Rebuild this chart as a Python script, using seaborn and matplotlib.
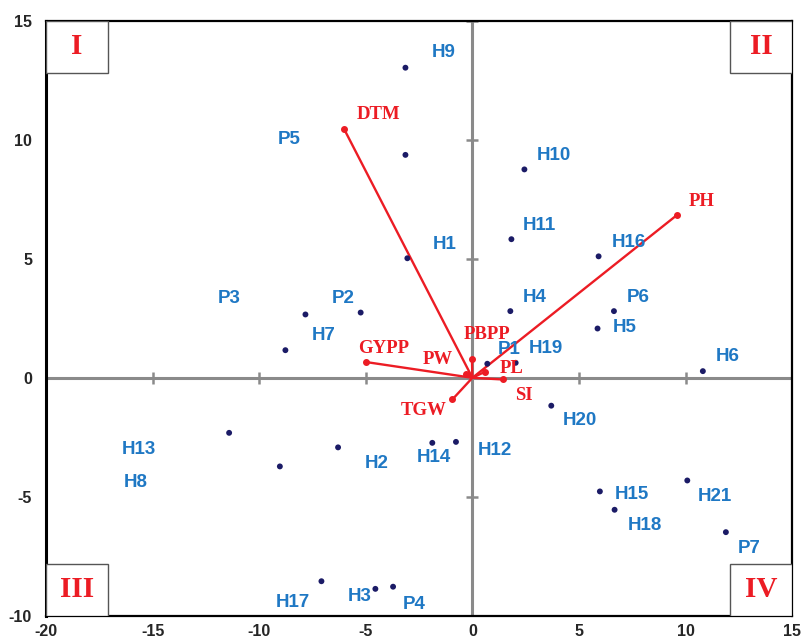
import numpy as np
import pandas as pd
import matplotlib.pyplot as plt
import seaborn as sns
from matplotlib.patches import Rectangle

# -----------------------------
# Data
# -----------------------------
genotypes = ['H1', 'H2', 'H3', 'H4', 'H5', 'H6', 'H7', 'H8', 'H9', 'H10',
             'H11', 'H12', 'H13', 'H14', 'H15', 'H16', 'H17', 'H18', 'H19',
             'H20', 'H21', 'P1', 'P2', 'P3', 'P4', 'P5', 'P6', 'P7']
pc1 = [-3.05, -6.30, -4.55, 1.78, 5.87, 10.81, -8.77, -9.03, -3.14, 2.44,
       1.83, -0.77, -11.41, -1.88, 5.98, 5.92, -7.08, 6.67, 2.03,
       3.70, 10.08, 0.70, -5.24, -7.83, -3.72, -3.14, 6.64, 11.89]
pc2 = [5.02, -2.92, -8.86, 2.80, 2.07, 0.28, 1.16, -3.72, 13.02, 8.75,
       5.82, -2.69, -2.31, -2.73, -4.77, 5.10, -8.54, -5.54, 0.63,
       -1.17, -4.31, 0.59, 2.74, 2.66, -8.77, 9.36, 2.80, -6.48]

traits = ['DTM', 'PH', 'GYPP', 'PBPP', 'PW', 'PL', 'SI', 'TGW']
trait_x = [-6.02, 9.59, -4.97, -0.02, -0.28, 0.58, 1.44, -0.94]
trait_y = [10.45, 6.83, 0.66, 0.81, 0.18, 0.25, -0.07, -0.91]

quadrants = ['I', 'II', 'III', 'IV']

# label offsets in pixels (right, down) from the point
geno_offsets = {
    'H1': (37, -14), 'H2': (39, 16), 'H3': (-16, 8), 'H4': (24, -14),
    'H5': (27, -1), 'H6': (25, -15), 'H7': (38, -15), 'H8': (-144, 16),
    'H9': (38, -15), 'H10': (29, -14), 'H11': (28, -14), 'H12': (39, 9),
    'H13': (-90, 17), 'H14': (2, 15), 'H15': (32, 3), 'H16': (30, -14),
    'H17': (-29, 21), 'H18': (30, 16), 'H19': (30, -14), 'H20': (29, 15),
    'H21': (28, 16), 'P1': (22, -14), 'P2': (-17, -14), 'P3': (-76, -16),
    'P4': (21, 18), 'P5': (-116, -15), 'P6': (24, -14), 'P7': (23, 16),
}
trait_offsets = {
    'DTM': (34, -14), 'PH': (25, -14), 'GYPP': (17, -14), 'PBPP': (15, -24),
    'PW': (-29, -14), 'PL': (27, -3), 'SI': (21, 16), 'TGW': (-29, 11),
}

df = pd.DataFrame({'genotype': genotypes, 'pc1': pc1, 'pc2': pc2})

# -----------------------------
# Style
# -----------------------------
sns.set_style('white')
plt.rcParams['font.family'] = ['Liberation Sans', 'DejaVu Sans']
plt.rcParams['axes.unicode_minus'] = False

blue = '#1f78c4'
red = '#ec1c24'
navy = '#1b1b66'
gray = '#8a8a8a'

fig = plt.figure(figsize=(8.01, 6.42), dpi=100)
ax = fig.add_axes([0.0574, 0.0405, 0.9316, 0.9275])

ax.set_xlim(-20, 15)
ax.set_ylim(-10, 15)

# zero axes with small cross ticks
ax.axhline(0, color=gray, lw=2.2, zorder=1)
ax.axvline(0, color=gray, lw=2.2, zorder=1)
xt = np.arange(-15, 16, 5)
xt = xt[xt != 0]
yt = np.arange(-10, 16, 5)
yt = yt[yt != 0]
ax.plot(xt, np.zeros_like(xt), ls='none', marker='|', ms=9, mew=1.8,
        color=gray, zorder=1)
ax.plot(np.zeros_like(yt), yt, ls='none', marker='_', ms=9, mew=1.8,
        color=gray, zorder=1)

# genotype points
sns.scatterplot(data=df, x='pc1', y='pc2', color=navy, s=18,
                edgecolor='none', ax=ax, zorder=3)

for g, x, y in zip(genotypes, pc1, pc2):
    dx, dy = geno_offsets[g]
    ax.annotate(g, (x, y), xytext=(dx, -dy), textcoords='offset pixels',
                ha='center', va='center', color=blue, fontsize=13.5,
                fontweight='bold', zorder=4)

# trait vectors
for t, x, y in zip(traits, trait_x, trait_y):
    ax.plot([0, x], [0, y], color=red, lw=1.7, zorder=2)
    ax.plot(x, y, 'o', color=red, ms=4, zorder=2)
    dx, dy = trait_offsets[t]
    ax.annotate(t, (x, y), xytext=(dx, -dy), textcoords='offset pixels',
                ha='center', va='center', color=red, fontsize=13.5,
                fontweight='bold', family='Liberation Serif', zorder=4)

# quadrant boxes
box_w, box_h = 0.083, 0.088
corners = [(0, 1 - box_h), (1 - box_w, 1 - box_h), (0, 0), (1 - box_w, 0)]
for q, (bx, by) in zip(quadrants, corners):
    ax.add_patch(Rectangle((bx, by), box_w, box_h, transform=ax.transAxes,
                           facecolor='white', edgecolor='#555555', lw=1,
                           zorder=5))
    ax.text(bx + box_w / 2, by + box_h / 2, q, transform=ax.transAxes,
            ha='center', va='center', color=red, fontsize=21,
            fontweight='bold', family='Liberation Serif', zorder=6)

# frame and ticks
ax.set_xticks(np.arange(-20, 16, 5))
ax.set_yticks(np.arange(-10, 16, 5))
ax.tick_params(axis='x', length=0, pad=6, labelsize=11.5)
ax.tick_params(axis='y', length=0, pad=10, labelsize=11.5)
for lab in ax.get_xticklabels() + ax.get_yticklabels():
    lab.set_fontweight('bold')
for side in ['top', 'right', 'bottom', 'left']:
    ax.spines[side].set_color('black')
    ax.spines[side].set_linewidth(1.6)
ax.spines['left'].set_linewidth(2.2)
ax.set_xlabel('')
ax.set_ylabel('')

fig.savefig('out.png', dpi=100)
